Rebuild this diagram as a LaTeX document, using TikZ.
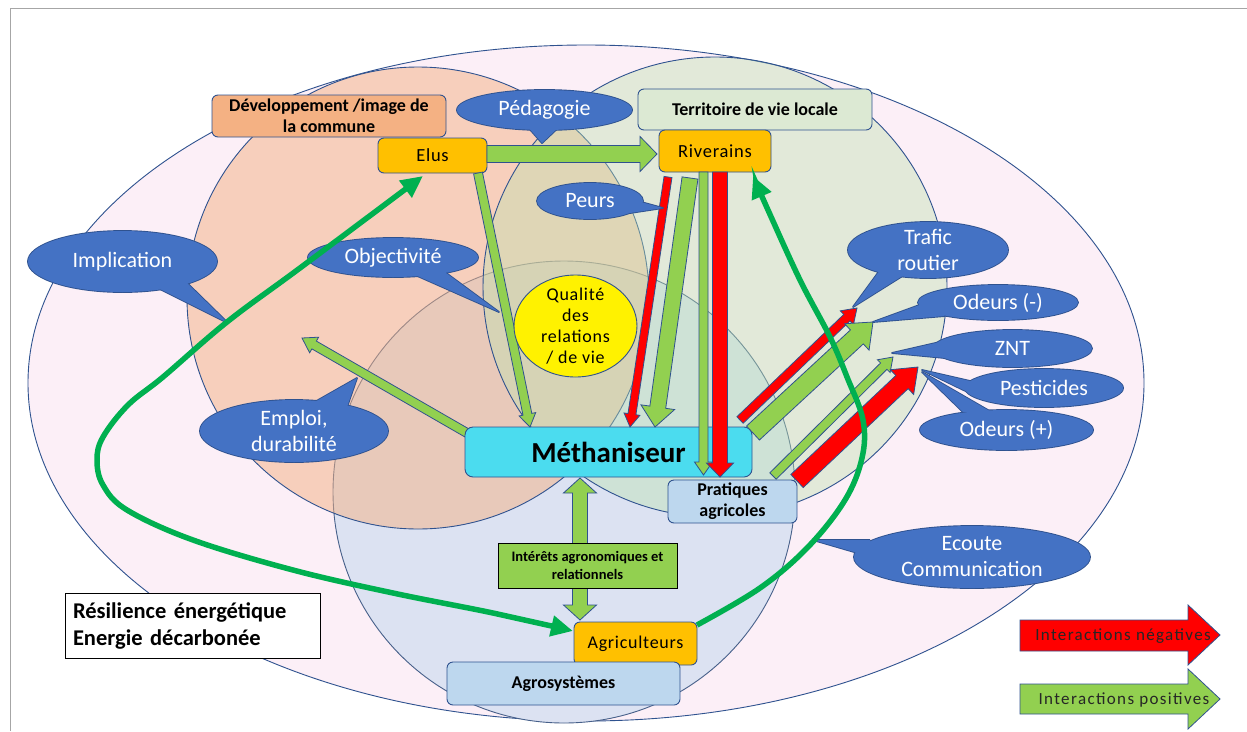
\documentclass[tikz,border=0pt]{standalone}
\usepackage{fontspec}
\setmainfont{Carlito}
\newfontfamily\spaced[LetterSpace=4]{Carlito}
\newfontfamily\wide[LetterSpace=8]{Carlito}
\usetikzlibrary{arrows.meta,calc,shapes.geometric}
\definecolor{bd}{HTML}{2F528F}
\definecolor{pinkc}{HTML}{FCEFF7}
\definecolor{orangec}{HTML}{F4B183}
\definecolor{greenc}{HTML}{BBE2AE}
\definecolor{bluec}{HTML}{DCE2F2}
\definecolor{cblue}{HTML}{4472C4}
\definecolor{agreen}{HTML}{92D050}
\definecolor{cgreen}{HTML}{00B050}
\definecolor{yel}{HTML}{FFC000}
\definecolor{devc}{HTML}{F4B183}
\definecolor{terc}{HTML}{DCE9D3}
\definecolor{methc}{HTML}{4BDCEF}
\definecolor{lblue}{HTML}{BDD7EE}
\newcommand\barrow[6]{%
  \path ($(#3)!#6pt!(#2)$) coordinate (tmpH);
  \draw[#1] ($(#2)!#4pt!90:(#3)$) -- ($(tmpH)!#4pt!-90:(#2)$) -- ($(tmpH)!#5pt!-90:(#2)$) -- (#3) -- ($(tmpH)!#5pt!90:(#2)$) -- ($(tmpH)!#4pt!90:(#2)$) -- ($(#2)!#4pt!-90:(#3)$) -- cycle;
}
\newcommand\callout[8]{%
  \draw[cb] (#2) ellipse [x radius=#3, y radius=#4];
  \draw[cb] (#5) -- (#7) -- (#6);
  \fill[cf] (#2) ellipse [x radius=#3, y radius=#4];
  \fill[cf] (#5) -- (#7) -- (#6) -- cycle;
  \node[ct] (#1) at (#2) {#8};
}
\tikzset{
  bx/.style={draw=bd, line width=0.9pt, rounded corners=6pt, inner sep=0pt, align=center},
  gar/.style={fill=agreen, draw=bd, line width=0.8pt},
  rar/.style={fill=red, draw=bd, line width=0.8pt},
  cb/.style={draw=bd, line width=1.8pt, line join=round},
  cf/.style={fill=cblue},
  ct/.style={text=white, font=\fontsize{22}{26}\selectfont, align=center, inner sep=0pt},
  gcurve/.style={draw=cgreen, line width=5.5pt},
  bfont/.style={font=\fontsize{18}{21}\selectfont\bfseries},
  sfont/.style={font=\fontsize{18.5}{21}\selectfont\spaced},
}
\begin{document}
\begin{tikzpicture}[x=1pt,y=-1pt]
\useasboundingbox (0,0) rectangle (1247,731);
\fill[white] (0,0) rectangle (1247,731);
\draw[gray!70, line width=0.8pt] (10,731) -- (10,8) -- (1247,8);
% sets
\draw[bd, line width=0.9pt, fill=pinkc] (586,383) ellipse [x radius=558, y radius=338];
\fill[bluec] (564,492) circle [radius=231];
\draw[bd!70!gray, line width=0.9pt] (564,492) circle [radius=231];
\fill[orangec, fill opacity=0.5] (418,298) circle [radius=231];
\draw[bd, line width=0.9pt] (418,298) circle [radius=231];
\fill[greenc, fill opacity=0.4] (715,287) ellipse [x radius=232, y radius=230];
\draw[bd, line width=0.9pt] (715,287) ellipse [x radius=232, y radius=230];
% boxes top
\node[bx, fill=devc, minimum width=234, minimum height=42, bfont] (dev) at (329,116) {D\'eveloppement /image de\\la commune};
\node[bx, fill=terc, minimum width=234, minimum height=41, bfont] (terr) at (755,109.5) {Territoire de vie locale};
\node[bx, fill=yel, minimum width=109, minimum height=35, sfont] (elus) at (432.5,155.5) {Elus};
\node[bx, fill=yel, minimum width=112, minimum height=42, sfont] (riv) at (715,151) {Riverains};
% Methaniseur -> left arrow (below box)
\coordinate (a3s) at (467,433); \coordinate (a3e) at (302,338);
\barrow{gar}{a3s}{a3e}{4.5}{9}{14}
\node[bx, fill=methc, rounded corners=8pt, minimum width=287, minimum height=50, font=\fontsize{29}{32}\selectfont\bfseries] (meth) at (608.5,452) {M\'ethaniseur};
\node[bx, fill=lblue, minimum width=129, minimum height=43, bfont] (prat) at (732.5,501.5) {Pratiques\\agricoles};
\node[bx, fill=yel, minimum width=123, minimum height=43, font=\fontsize{18}{21}\selectfont\spaced] (agri) at (635.5,643.5) {Agriculteurs};
\node[bx, fill=lblue, minimum width=233, minimum height=43, bfont] (agro) at (563.5,683.5) {Agrosyst\`emes};
% block arrows
\coordinate (a1s) at (487,154); \coordinate (a1e) at (657,154);
\barrow{gar}{a1s}{a1e}{8.5}{17.5}{17}
\coordinate (a2s) at (478,173); \coordinate (a2e) at (530,427);
\barrow{gar}{a2s}{a2e}{4.5}{8.5}{13}
\coordinate (a4s) at (668,177); \coordinate (a4e) at (630,427);
\barrow{rar}{a4s}{a4e}{4}{8}{13}
\coordinate (a5s) at (690,178); \coordinate (a5e) at (655,427);
\barrow{gar}{a5s}{a5e}{8}{17}{20}
\coordinate (a6s) at (703.5,172); \coordinate (a6e) at (703.5,475);
\barrow{gar}{a6s}{a6e}{4.5}{9}{13}
\coordinate (a7s) at (720,172); \coordinate (a7e) at (720,477);
\barrow{rar}{a7s}{a7e}{7.5}{13.5}{14}
\coordinate (a8s) at (740,420); \coordinate (a8e) at (857,308);
\barrow{rar}{a8s}{a8e}{4.5}{9.5}{14}
\coordinate (a9s) at (753,433); \coordinate (a9e) at (873,322);
\barrow{gar}{a9s}{a9e}{9.5}{18}{22}
\coordinate (a10s) at (773,476); \coordinate (a10e) at (893,357);
\barrow{gar}{a10s}{a10e}{4.5}{9}{13}
\coordinate (a11s) at (797,481); \coordinate (a11e) at (918,367);
\barrow{rar}{a11s}{a11e}{9}{17}{22}
% double arrow
\coordinate (d1) at (580,478); \coordinate (d2) at (580,620);
\draw[gar] (d1) -- ($(d1)+(16.5,15)$) -- ($(d1)+(7.5,15)$) -- ($(d2)+(7.5,-15)$) -- ($(d2)+(16.5,-15)$) -- (d2) -- ($(d2)+(-16.5,-15)$) -- ($(d2)+(-7.5,-15)$) -- ($(d1)+(-7.5,15)$) -- ($(d1)+(-16.5,15)$) -- cycle;
\node[draw=black, line width=1pt, fill=agreen, minimum width=179, minimum height=45, inner sep=0pt, align=center, font=\fontsize{14.5}{17.5}\selectfont\bfseries] (int) at (587.5,565.5) {Int\'er\^ets agronomiques et\\relationnels};
% Qualite
\node[draw=bd, line width=0.9pt, fill=yellow, ellipse, minimum width=123, minimum height=102, inner sep=0pt] (qual) at (575.5,326) {};
\node[align=center, font=\fontsize{18}{21}\selectfont\spaced, inner sep=0pt] (qualt) at (qual.center) {Qualit\'e\\des\\relations\\/ de vie};
% callouts
\callout{peda}{544.5,110}{87.5}{20}{527,126}{560,126}{542,143}{P\'edagogie}
\callout{peurs}{590,201}{53}{18}{630,199}{630,213}{663,208}{Peurs}
\callout{impl}{122.5,261.5}{94.5}{30.5}{150,284}{185,281}{228,323}{Implication}
\callout{obj}{393,257.5}{85}{19.5}{413,274}{442,270}{499,312}{Objectivit\'e}
\callout{emp}{294,431}{94}{31}{313,403}{347,407}{357,378}{Emploi,\\durabilit\'e}
\callout{traf}{928,250}{80}{28}{883,266}{912,270}{853,307}{Trafic\\routier}
\callout{odm}{998,302.5}{80}{17.5}{925,303}{945,316}{873,322}{Odeurs (-)}
\callout{znt}{1012.5,348.5}{79.5}{18.5}{940,342}{945,358}{892,353}{ZNT}
\callout{pest}{1044,388}{79}{19}{970,381}{978,397}{922,370}{Pesticides}
\callout{odp}{1006.5,430}{86.5}{20}{963,412}{993,413}{922,372}{Odeurs (+)}
\callout{ecou}{972,557}{118}{31}{870,540}{868,556}{813,540}{Ecoute\\Communication}
% big green curves
\coordinate (c1a) at (573,631); \coordinate (c1b) at (423,176);
\draw[gcurve, {Triangle[length=22pt,width=20pt]}-{Triangle[length=22pt,width=20pt]}] plot[smooth, tension=0.6] coordinates {(c1a) (493,613) (393,593) (293,570) (193,540) (127,510) (103,485) (97,460) (103,437) (128,405) (163,377) (227,322) (300,268) (c1b)};
\coordinate (c2a) at (697,625); \coordinate (c2b) at (753,176);
\draw[gcurve, -{Triangle[length=22pt,width=20pt]}] plot[smooth, tension=0.6] coordinates {(c2a) (760,588) (808,547) (845,500) (862,458) (863,420) (847,377) (830,337) (800,280) (768,210) (c2b)};
% resilience
\node[draw=black, line width=1pt, fill=white, minimum width=255, minimum height=65, inner sep=0pt, text width=239, align=left, font=\fontsize{22.5}{27}\selectfont\bfseries] (res) at (192.5,625.5) {R\'esilience \'energ\'etique\\Energie d\'ecarbon\'ee};
% legend
\draw[fill=red, draw=bd, line width=0.8pt] (1020,620) -- (1188,620) -- (1188,605) -- (1220,635) -- (1188,665) -- (1188,651) -- (1020,651) -- cycle;
\node[font=\fontsize{17}{19}\selectfont\wide, text=black!85] (legn) at (1123,636) {Interactions n\'egatives};
\draw[fill=agreen, draw=bd, line width=0.8pt] (1020,684) -- (1188,684) -- (1188,669) -- (1220,699) -- (1188,729) -- (1188,714) -- (1020,714) -- cycle;
\node[font=\fontsize{17}{19}\selectfont\wide, text=black!85] (legp) at (1124,700) {Interactions positives};
\end{tikzpicture}
\end{document}
